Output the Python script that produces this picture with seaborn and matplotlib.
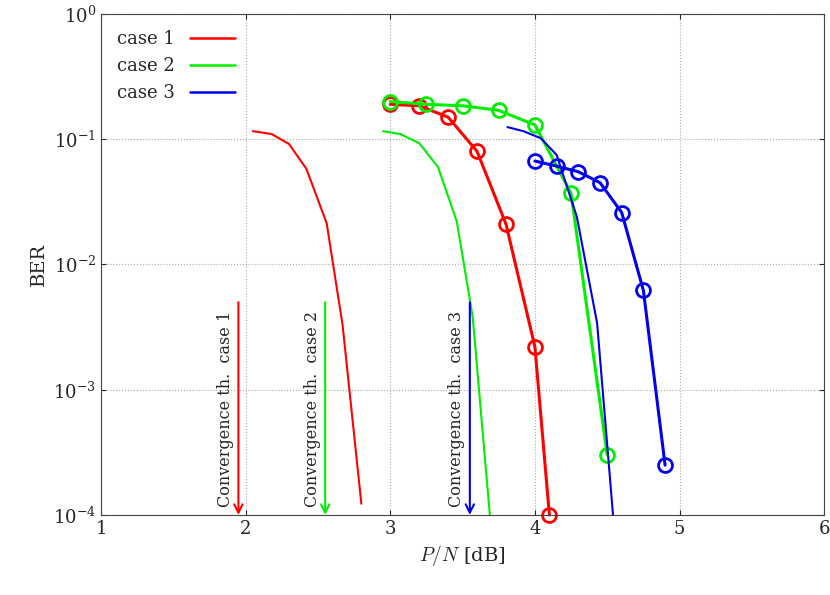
import matplotlib
matplotlib.use('Agg')
import pandas as pd
import matplotlib.pyplot as plt
import seaborn as sns

# thin curves (no markers)
thin1_x = [2.05, 2.18, 2.30, 2.42, 2.56, 2.67, 2.80]
thin1_y = [0.116, 0.110, 0.0916, 0.058, 0.0214, 0.0033, 1.23e-4]
thin2_x = [2.95, 3.07, 3.20, 3.33, 3.46, 3.57, 3.69]
thin2_y = [0.116, 0.110, 0.093, 0.060, 0.022, 0.0038, 9.5e-5]
thin3_x = [3.81, 3.92, 4.04, 4.15, 4.29, 4.43, 4.54]
thin3_y = [0.125, 0.116, 0.102, 0.075, 0.024, 0.0034, 1.0e-4]

# thick curves with circle markers
case1_x = [3.0, 3.2, 3.4, 3.6, 3.8, 4.0, 4.1]
case1_y = [0.19, 0.185, 0.15, 0.08, 0.021, 0.0022, 1.0e-4]
case2_x = [3.0, 3.25, 3.5, 3.75, 4.0, 4.25, 4.5]
case2_y = [0.2, 0.19, 0.185, 0.17, 0.13, 0.037, 3.0e-4]
case3_x = [4.0, 4.15, 4.3, 4.45, 4.6, 4.75, 4.9]
case3_y = [0.067, 0.061, 0.055, 0.045, 0.026, 0.0062, 2.5e-4]

conv_x = [1.95, 2.55, 3.55]
labels = ['case 1', 'case 2', 'case 3']
colors = ['#ff0000', '#00ee00', '#0000ee']

sns.set_style('ticks')
plt.rcParams['font.family'] = ['DejaVu Serif']
plt.rcParams['mathtext.fontset'] = 'cm'

fig = plt.figure(figsize=(8.3, 5.95), dpi=100)
ax = fig.add_axes([0.1217, 0.1345, 0.8713, 0.842])

thin = [(thin1_x, thin1_y), (thin2_x, thin2_y), (thin3_x, thin3_y)]
thick = [(case1_x, case1_y), (case2_x, case2_y), (case3_x, case3_y)]
for (tx, ty), (cx, cy), lab, c in zip(thin, thick, labels, colors):
    sns.lineplot(x=tx, y=ty, ax=ax, color=c, lw=1.5, sort=False, estimator=None)
    sns.lineplot(x=cx, y=cy, ax=ax, color=c, lw=2.2, sort=False, estimator=None,
                 marker='o', markersize=10, markerfacecolor='none',
                 markeredgecolor=c, markeredgewidth=2, clip_on=False)
    ax.plot([], [], color=c, lw=1.8, label=lab)

for x, lab, c in zip(conv_x, labels, colors):
    ax.annotate('', xy=(x, 1e-4), xytext=(x, 5e-3),
                arrowprops=dict(arrowstyle='->', color=c, lw=1.5,
                                shrinkA=0, shrinkB=0, mutation_scale=15))
    ax.text(x - 0.03, 1.15e-4, 'Convergence th.  ' + lab, rotation=90,
            ha='right', va='bottom', fontsize=11.5)

ax.set_yscale('log')
ax.set_xlim(1, 6)
ax.set_ylim(1e-4, 1)
ax.set_yticks([1e-4, 1e-3, 1e-2, 1e-1, 1])
ax.minorticks_off()
ax.tick_params(direction='in', top=True, right=True, labelsize=13)
ax.grid(True, ls=':', color='#aaaaaa', lw=0.8)
ax.set_xlabel('$P/N$ [dB]', fontsize=14)
ax.set_ylabel('BER', fontsize=14)
for s in ax.spines.values():
    s.set_color('#444444')
ax.legend(loc='upper left', markerfirst=False, frameon=False, fontsize=13,
          handlelength=2.5)

fig.savefig('out.png', dpi=100)
